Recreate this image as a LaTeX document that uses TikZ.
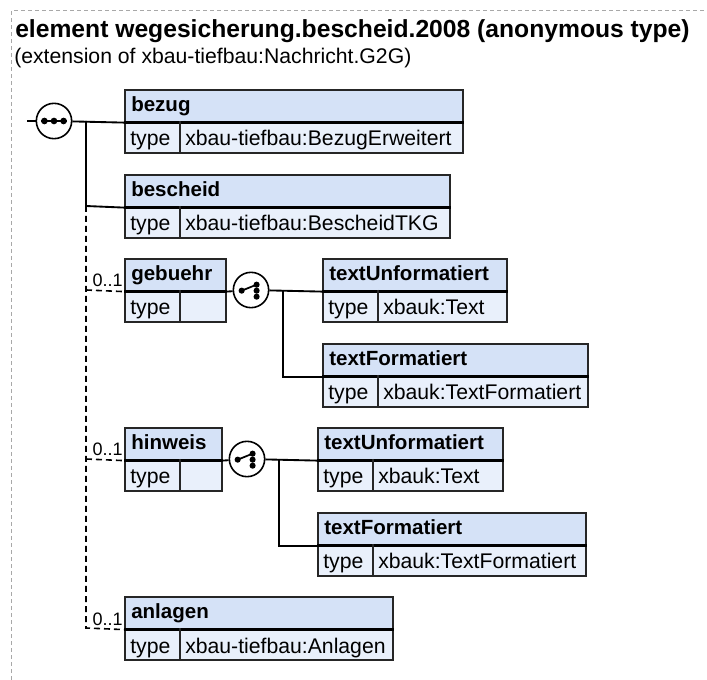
\documentclass[tikz,border=0pt]{standalone}
\usepackage{fontspec}
\setmainfont{Liberation Sans}
\definecolor{hdrfill}{HTML}{D5E2F7}
\definecolor{rowfill}{HTML}{E9F0FB}
\definecolor{boxln}{HTML}{262626}
\definecolor{framegray}{HTML}{A8A8A8}
\newcommand\bxbold{\fontsize{15.4}{18}\selectfont\bfseries}
\newcommand\bxreg{\fontsize{15.9}{18}\selectfont}
\newcommand\elembox[7]{%
  \node[hdrbox, minimum width={(#4-#2)*0.75}] (#1) at (#2,#3) {};
  \node[rowbox, minimum width={(#4-#2)*0.75}] (#1-row) at (#2,#3+32) {};
  \draw[sepline] (#1.south west) -- (#1.south east);
  \draw[divline] (#5,#3+32) -- (#5,#3+63);
  \node[lbl, font=\bxbold] (#1-name) at (#2+7,#3+22.5) {#6};
  \node[lbl, font=\bxreg] (#1-typelbl) at (#2+6,#3+57) {type};
  \node[lbl, font=\bxreg] (#1-type) at (#5+5,#3+57) {#7};
}
\tikzset{
  hdrbox/.style={draw=boxln, line width=1.2pt, fill=hdrfill, anchor=north west, inner sep=0pt, minimum height=24pt},
  rowbox/.style={draw=boxln, line width=1.2pt, fill=rowfill, anchor=north west, inner sep=0pt, minimum height=23.25pt},
  sepline/.style={draw=black, line width=1.7pt},
  divline/.style={draw=boxln, line width=1.2pt},
  lbl/.style={anchor=base west, inner sep=0pt},
  conn/.style={draw=black, line width=1.4pt},
  dconn/.style={draw=black, line width=1.2pt, dash pattern=on 4.5pt off 3pt},
  icon/.style={circle, draw=black, fill=white, line width=1.2pt, minimum size=26.5pt, inner sep=0pt},
  mult/.style={anchor=base east, inner sep=0pt, font=\fontsize{13.5}{15}\selectfont},
  frame/.style={draw=framegray, line width=0.75pt, dash pattern=on 3pt off 2.25pt}
}
\begin{document}
\begin{tikzpicture}[x=0.75pt,y=-0.75pt]
\useasboundingbox (0,0) rectangle (707,680);
% outer dashed frame
\coordinate (fr-tl) at (11,11);
\coordinate (fr-tr) at (707,11);
\coordinate (fr-bl) at (11,680);
\draw[frame] (fr-bl) -- (fr-tl) -- (fr-tr);
% title
\node[lbl, font=\fontsize{18.5}{22}\selectfont\bfseries] (title) at (15,38) {element wegesicherung.bescheid.2008 (anonymous type)};
\node[lbl, font=\bxreg] (subtitle) at (14,64) {(extension of xbau-tiefbau:Nachricht.G2G)};
% element boxes
\elembox{bezug}{124}{89}{462}{180}{bezug}{xbau-tiefbau:BezugErweitert}
\elembox{bescheid}{124}{174}{449}{180}{bescheid}{xbau-tiefbau:BescheidTKG}
\elembox{gebuehr}{124}{258}{225}{180}{gebuehr}{}
\elembox{tuA}{322}{258}{506}{378}{textUnformatiert}{xbauk:Text}
\elembox{tfA}{322}{343}{587}{378}{textFormatiert}{xbauk:TextFormatiert}
\elembox{hinweis}{124}{427}{221}{180}{hinweis}{}
\elembox{tuB}{317}{427}{502}{373}{textUnformatiert}{xbauk:Text}
\elembox{tfB}{317}{512}{585}{373}{textFormatiert}{xbauk:TextFormatiert}
\elembox{anlagen}{124}{596}{392}{180}{anlagen}{xbau-tiefbau:Anlagen}
% sequence icon
\coordinate (start) at (27,121);
\node[icon] (seq) at (54,121) {};
\draw[conn] (start) -- (seq);
\draw[line width=1.3pt] ([xshift=-10pt]seq.center) -- ([xshift=10pt]seq.center);
\foreach \dx in {-7.2,0,7.2} \fill ([xshift=\dx pt]seq.center) circle (2.5pt);
\draw[conn] (seq) -- (bezug.south west);
\coordinate (j1) at (86,121);
\coordinate (j2) at (86,206);
\coordinate (d1) at (86,290);
\coordinate (d2) at (86,459);
\coordinate (d3) at (86,628);
\draw[conn] (j1) -- (j2) -- (bescheid.south west);
\draw[dconn] (j2) -- (d3) -- (anlagen.south west);
\draw[dconn] (d1) -- (gebuehr.south west);
\draw[dconn] (d2) -- (hinweis.south west);
\node[mult] (m1) at (123,287) {0..1};
\node[mult] (m2) at (123,456) {0..1};
\node[mult] (m3) at (123,625) {0..1};
% choice icons
\node[icon] (chA) at (251,290) {};
\node[icon] (chB) at (247,459) {};
\foreach \c in {chA,chB}{
  \draw[line width=1.3pt] ([shift={(-7pt,-0.5pt)}]\c.center) -- ([shift={(4.2pt,4pt)}]\c.center);
  \fill ([shift={(-7pt,-0.5pt)}]\c.center) circle (2.3pt);
  \fill ([shift={(4.2pt,4pt)}]\c.center) circle (2.3pt);
  \fill ([shift={(4.2pt,-0.5pt)}]\c.center) circle (2.3pt);
  \fill ([shift={(4.2pt,-5pt)}]\c.center) circle (2.3pt);
}
\draw[conn] (gebuehr.south east) -- (chA);
\draw[conn] (chA) -- (tuA.south west);
\coordinate (kA) at (283,290);
\draw[conn] (kA) |- (tfA.south west);
\draw[conn] (hinweis.south east) -- (chB);
\draw[conn] (chB) -- (tuB.south west);
\coordinate (kB) at (279,459);
\draw[conn] (kB) |- (tfB.south west);
\end{tikzpicture}
\end{document}
